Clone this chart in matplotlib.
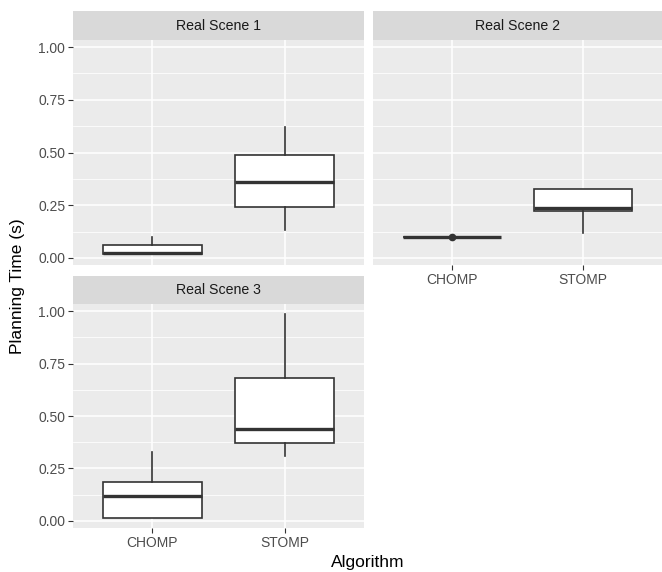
import matplotlib
matplotlib.use("Agg")
import matplotlib.pyplot as plt
import numpy as np

plt.rcParams['font.family'] = ['Liberation Sans', 'DejaVu Sans']

# box statistics (seconds)
scenes = ['Real Scene 1', 'Real Scene 2', 'Real Scene 3']
algorithms = ['CHOMP', 'STOMP']
whislo = [[0.019, 0.133], [0.097, 0.118], [0.014, 0.31]]
q1 = [[0.019, 0.242], [0.097, 0.222], [0.014, 0.37]]
med = [[0.024, 0.36], [0.097, 0.237], [0.12, 0.438]]
q3 = [[0.062, 0.488], [0.097, 0.327], [0.187, 0.68]]
whishi = [[0.10, 0.62], [0.097, 0.327], [0.326, 0.985]]
outliers = [[[], []], [[0.10], []], [[], []]]

W, H = 662, 572
fig = plt.figure(figsize=(W / 100, H / 100), dpi=100)

def frac(left, top, right, bottom):
    return [left / W, 1 - bottom / H, (right - left) / W, (bottom - top) / H]

# (left, strip top, right, strip bottom, plot bottom) in pixels
panels = [(73, 11, 364, 40, 265), (373, 11, 662, 40, 265), (73, 276, 364, 304, 528)]

grey = '#333333'
for i, (l, st, r, sb, pb) in enumerate(panels):
    ax = fig.add_axes(frac(l, sb, r, pb))
    sax = fig.add_axes(frac(l, st, r, sb))
    sax.set_facecolor('#d9d9d9')
    sax.set_xticks([]); sax.set_yticks([])
    for s in sax.spines.values():
        s.set_visible(False)
    sax.text(0.5, 0.5, scenes[i], ha='center', va='center', fontsize=10.2, color='#1a1a1a')

    stats = []
    for j, a in enumerate(algorithms):
        stats.append(dict(label=a, whislo=whislo[i][j], q1=q1[i][j], med=med[i][j],
                          q3=q3[i][j], whishi=whishi[i][j], fliers=outliers[i][j]))
    ax.bxp(stats, positions=[1, 2], widths=0.75, patch_artist=True, showcaps=False,
           manage_ticks=False,
           boxprops=dict(facecolor='white', edgecolor=grey, lw=1.2),
           medianprops=dict(color=grey, lw=2.4),
           whiskerprops=dict(color=grey, lw=1.2),
           flierprops=dict(marker='o', markerfacecolor=grey, markeredgecolor=grey, markersize=4.5))

    ax.set_facecolor('#ebebeb')
    for s in ax.spines.values():
        s.set_visible(False)
    ax.set_xlim(0.4, 2.6)
    ax.set_ylim(-0.034, 1.034)
    ax.set_yticks([0, 0.25, 0.5, 0.75, 1.0])
    ax.set_yticks([0.125, 0.375, 0.625, 0.875], minor=True)
    ax.set_xticks([1, 2])
    ax.set_xticks([], minor=True)
    ax.grid(True, which='major', color='white', lw=1.1)
    ax.grid(True, which='minor', axis='y', color='white', lw=0.55)
    ax.set_axisbelow(True)
    ax.tick_params(axis='both', which='major', length=3.5, width=0.8, color='#333333',
                   labelsize=10, labelcolor='#4d4d4d', pad=2)
    ax.tick_params(which='minor', length=0)

    if i == 0 or i == 2:
        ax.set_yticklabels(['0.00', '0.25', '0.50', '0.75', '1.00'])
    else:
        ax.tick_params(axis='y', left=False, labelleft=False)
    if i == 0:
        ax.tick_params(axis='x', bottom=False, labelbottom=False)
    else:
        ax.set_xticklabels(algorithms)

fig.text(368 / W, 1 - 563 / H, 'Algorithm', ha='center', va='center', fontsize=12.5)
fig.text(18 / W, 1 - 286 / H, 'Planning Time (s)', ha='center', va='center', fontsize=12.5, rotation=90)

fig.savefig('out.png', dpi=100)
